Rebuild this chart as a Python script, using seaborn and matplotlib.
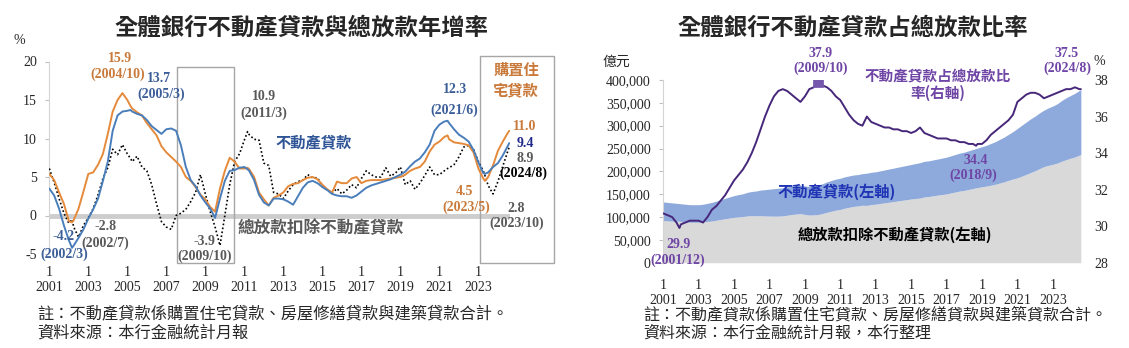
import matplotlib
matplotlib.use("Agg")
import matplotlib.pyplot as plt
import seaborn as sns
import pandas as pd
from matplotlib.patches import Rectangle
from matplotlib.ticker import FuncFormatter

sns.set_style("white")
plt.rcParams['font.family'] = ['Liberation Serif', 'Noto Sans CJK TC', 'DejaVu Sans']
plt.rcParams['axes.unicode_minus'] = False
CJK = ['Noto Sans CJK TC', 'DejaVu Sans']
SERIF = ['Liberation Serif', 'Noto Sans CJK TC']

# ---------------- data: left chart (year-on-year growth, %) ----------------
growth_months = (
    "2001/1 2001/4 2001/7 2001/10 "
    "2002/1 2002/3 2002/4 2002/7 2002/10 "
    "2003/1 2003/4 2003/7 2003/10 "
    "2004/1 2004/4 2004/7 2004/10 "
    "2005/1 2005/3 2005/4 2005/7 2005/10 "
    "2006/1 2006/4 2006/7 2006/10 "
    "2007/1 2007/4 2007/7 2007/10 "
    "2008/1 2008/4 2008/7 2008/10 "
    "2009/1 2009/4 2009/7 2009/10 "
    "2010/1 2010/4 2010/7 2010/10 "
    "2011/1 2011/3 2011/4 2011/7 2011/10 "
    "2012/1 2012/4 2012/7 2012/10 "
    "2013/1 2013/4 2013/7 2013/10 "
    "2014/1 2014/4 2014/7 2014/10 "
    "2015/1 2015/4 2015/7 2015/10 "
    "2016/1 2016/4 2016/7 2016/10 "
    "2017/1 2017/4 2017/7 2017/10 "
    "2018/1 2018/4 2018/7 2018/10 "
    "2019/1 2019/4 2019/7 2019/10 "
    "2020/1 2020/4 2020/7 2020/10 "
    "2021/1 2021/4 2021/6 2021/7 2021/10 "
    "2022/1 2022/4 2022/7 2022/10 "
    "2023/1 2023/4 2023/5 2023/7 2023/10 "
    "2024/1 2024/4 2024/7 2024/8"
).split()

housing_growth = [
    5.4, 4.6, 3.0, 1.5,
    -0.7, -0.9, -0.6, 0.9, 3.1,
    5.4, 5.6, 6.6, 8.0,
    10.6, 13.5, 15.0, 15.9,
    15.0, 14.2, 13.9, 13.4, 13.0,
    12.0, 11.2, 10.4, 9.0,
    8.2, 7.6, 7.0, 6.3,
    5.0, 4.5, 3.7, 2.7,
    2.1, 1.1, 0.5, 3.5,
    5.8, 7.5, 7.0, 6.1,
    6.1, 6.2, 6.0, 5.0, 3.0,
    2.1, 1.3, 2.3, 2.6,
    3.0, 3.8, 4.1, 4.2,
    4.6, 4.9, 5.0, 4.7,
    4.0, 3.4, 3.0, 4.4,
    4.2, 4.2, 4.8, 5.0,
    4.2, 4.5, 4.6, 4.6,
    4.6, 4.7, 4.8, 4.9,
    5.0, 5.3, 5.8, 6.1,
    6.3, 7.0, 8.3, 9.2,
    9.6, 10.2, 10.4, 9.9, 9.5,
    9.4, 9.3, 9.1, 8.2,
    6.1, 4.8, 4.5, 5.0, 6.5,
    8.4, 9.6, 10.7, 11.0,
]

real_estate_growth = [
    3.5, 2.6, 0.9, -1.3,
    -3.2, -4.2, -3.9, -2.9, -1.8,
    -0.4, 0.8, 2.2, 4.5,
    7.0, 11.0, 13.0, 13.5,
    13.6, 13.7, 13.5, 13.2, 13.0,
    12.4, 11.6, 11.1, 10.6,
    11.2, 11.3, 11.0, 9.1,
    6.3, 4.6, 3.8, 2.6,
    1.7, 0.9, -0.3, 2.2,
    4.5, 5.8, 5.9, 6.2,
    6.3, 6.0, 5.8, 4.6, 2.7,
    1.7, 1.3, 2.2, 2.2,
    2.1, 1.8, 1.4, 2.5,
    3.6, 4.3, 4.5, 4.2,
    3.7, 3.3, 2.8, 2.6,
    2.5, 2.5, 2.3, 2.6,
    3.1, 3.6, 3.9, 4.1,
    4.3, 4.5, 4.7, 5.0,
    5.3, 5.7, 6.4, 7.0,
    7.4, 8.2, 9.2, 11.0,
    11.8, 12.2, 12.3, 12.0, 11.2,
    10.5, 10.1, 9.6, 8.5,
    6.9, 5.5, 5.4, 5.6, 6.3,
    6.8, 7.8, 9.0, 9.4,
]

other_growth = [
    6.1, 4.3, 2.2, 0.3,
    -1.0, -0.5, -1.5, -2.8, -1.3,
    -0.3, 0.9, 2.7, 4.8,
    6.2, 8.6, 7.9, 9.2,
    8.0, 7.4, 7.0, 7.7, 6.3,
    5.8, 4.0, 1.5, -0.8,
    -1.5, -1.8, 0.0, 0.3,
    0.8, 1.8, 3.0, 5.3,
    2.8, 0.5, -1.5, -3.9,
    0.0, 4.0, 7.0, 8.0,
    9.8, 10.9, 10.5, 9.9, 9.8,
    6.8, 6.5, 3.0, 2.8,
    2.2, 3.2, 4.0, 4.4,
    4.6, 5.3, 4.9, 4.9,
    3.8, 3.3, 2.9, 3.5,
    2.8, 3.3, 4.0, 3.6,
    4.8, 5.8, 5.3, 5.0,
    5.0, 6.2, 5.1, 5.5,
    6.3, 4.0, 4.5, 3.4,
    4.2, 5.2, 6.3, 5.3,
    5.3, 5.8, 6.1, 6.2, 6.6,
    7.6, 8.9, 9.1, 8.6,
    7.0, 5.8, 5.2, 3.9, 2.8,
    4.4, 6.4, 8.3, 8.9,
]

# ---------------- data: right chart (levels, 億元, and ratio %) ----------------
level_months = (
    "2001/1 2001/4 2001/7 2001/10 2001/12 "
    "2002/1 2002/4 2002/7 2002/10 "
    "2003/1 2003/4 2003/7 2003/10 "
    "2004/1 2004/4 2004/7 2004/10 "
    "2005/1 2005/4 2005/7 2005/10 "
    "2006/1 2006/4 2006/7 2006/10 "
    "2007/1 2007/4 2007/7 2007/10 "
    "2008/1 2008/4 2008/7 2008/10 "
    "2009/1 2009/4 2009/7 2009/10 "
    "2010/1 2010/4 2010/7 2010/10 "
    "2011/1 2011/4 2011/7 2011/10 "
    "2012/1 2012/4 2012/7 2012/10 "
    "2013/1 2013/4 2013/7 2013/10 "
    "2014/1 2014/4 2014/7 2014/10 "
    "2015/1 2015/4 2015/7 2015/10 "
    "2016/1 2016/4 2016/7 2016/10 "
    "2017/1 2017/4 2017/7 2017/10 "
    "2018/1 2018/4 2018/7 2018/9 2018/10 "
    "2019/1 2019/4 2019/7 2019/10 "
    "2020/1 2020/4 2020/7 2020/10 "
    "2021/1 2021/4 2021/7 2021/10 "
    "2022/1 2022/4 2022/7 2022/10 "
    "2023/1 2023/4 2023/7 2023/10 "
    "2024/1 2024/4 2024/7 2024/8"
).split()

other_loans = [  # 總放款扣除不動產貸款, 億元
    92200, 91600, 91000, 90700, 90800,
    90200, 89300, 88500, 88500,
    88500, 89300, 90400, 91200,
    93000, 94700, 96300, 97800,
    99200, 100100, 101000, 102400,
    103000, 102700, 102900, 102400,
    102100, 101900, 102000, 102500,
    103900, 105500, 106500, 107400,
    105700, 104400, 104800, 105600,
    107800, 110400, 112700, 115100,
    116700, 119400, 121400, 123300,
    124300, 125800, 125400, 127300,
    128200, 129600, 131100, 132400,
    133900, 135200, 136700, 138000,
    139500, 140600, 141500, 144100,
    145000, 146500, 148000, 149300,
    150600, 152800, 154800, 157000,
    158300, 160500, 162400, 164000, 164400,
    166400, 167800, 169700, 171700,
    174400, 177100, 180400, 183400,
    185800, 189600, 193400, 197500,
    201300, 206000, 210400, 213200,
    215400, 218200, 222200, 225600,
    228800, 231500, 235600, 236900,
]

real_estate_loans = [  # 不動產貸款, 億元
    40800, 40400, 40000, 39300, 38700,
    38800, 38700, 38500, 38500,
    38500, 38700, 39600, 40800,
    42000, 43300, 44700, 46200,
    47800, 48900, 50000, 51600,
    53000, 54300, 56100, 57600,
    58900, 60100, 61000, 61500,
    62100, 62500, 62500, 62600,
    62300, 62600, 63200, 64400,
    65200, 66600, 67300, 67900,
    68300, 68600, 68600, 68700,
    68700, 69200, 70600, 70700,
    70800, 71400, 71900, 72600,
    73100, 73800, 74300, 75000,
    75500, 76400, 77500, 77900,
    78000, 78500, 79000, 79700,
    80400, 81200, 82200, 83000,
    83700, 84500, 85600, 86000, 86600,
    87600, 89200, 91300, 93300,
    95600, 97900, 100600, 103600,
    108200, 111400, 114600, 117500,
    119700, 122000, 123600, 125800,
    127600, 129800, 132800, 135400,
    137200, 139500, 141400, 142100,
]

re_share = [  # 不動產貸款占總放款比率, %
    30.7, 30.6, 30.5, 30.2, 29.9,
    30.1, 30.2, 30.3, 30.3,
    30.3, 30.2, 30.5, 30.9,
    31.1, 31.4, 31.7, 32.1,
    32.5, 32.8, 33.1, 33.5,
    34.0, 34.6, 35.3, 36.0,
    36.6, 37.1, 37.4, 37.5,
    37.4, 37.2, 37.0, 36.8,
    37.1, 37.5, 37.6, 37.9,
    37.7, 37.6, 37.4, 37.1,
    36.9, 36.5, 36.1, 35.8,
    35.6, 35.5, 36.0, 35.7,
    35.6, 35.5, 35.4, 35.4,
    35.3, 35.3, 35.2, 35.2,
    35.1, 35.2, 35.4, 35.1,
    35.0, 34.9, 34.8, 34.8,
    34.8, 34.7, 34.7, 34.6,
    34.6, 34.5, 34.5, 34.4, 34.5,
    34.5, 34.7, 35.0, 35.2,
    35.4, 35.6, 35.8, 36.1,
    36.8, 37.0, 37.2, 37.3,
    37.3, 37.2, 37.0, 37.1,
    37.2, 37.3, 37.4, 37.5,
    37.5, 37.6, 37.5, 37.5,
]

tick_years = [2001, 2003, 2005, 2007, 2009, 2011, 2013, 2015, 2017, 2019, 2021, 2023]


def to_year(s):
    y, m = s.split('/')
    return int(y) + (int(m) - 1) / 12


g = pd.DataFrame({'t': [to_year(s) for s in growth_months],
                  'housing': housing_growth,
                  'real_estate': real_estate_growth,
                  'other': other_growth})
lv = pd.DataFrame({'t': [to_year(s) for s in level_months],
                   'other': other_loans,
                   're': real_estate_loans,
                   'share': re_share})
lv['total'] = lv['other'] + lv['re']

# ---------------- colours ----------------
ORANGE = '#E58A3A'
ORANGE_T = '#C97A3B'
BLUE = '#4A7EBB'
BLUE_T = '#3C5F99'
GRAY_T = '#595959'
NAVY_T = '#1F2A8A'
GREY_AREA = '#D9D9D9'
BLUE_AREA = '#8EA9DB'
PURPLE = '#46277A'
PURPLE_T = '#6F46A5'

W, H = 1129, 348
fig = plt.figure(figsize=(W / 100, H / 100), dpi=100)


def fx(px):
    return px / W


def fy(py):
    return 1 - py / H


# ================= LEFT CHART =================
axL = fig.add_axes([fx(49.3), fy(254), fx(510) - fx(49.3), fy(61.5) - fy(254)])
axL.set_xlim(2001, 2024.62)
axL.set_ylim(-5, 20)
axL.axhline(0, color='#CDCDCD', lw=3.5, zorder=1)
sns.lineplot(data=g, x='t', y='other', ax=axL, color='black', lw=1.2,
             linestyle=(0, (1, 1.4)), zorder=3)
sns.lineplot(data=g, x='t', y='housing', ax=axL, color=ORANGE, lw=1.4, zorder=4)
sns.lineplot(data=g, x='t', y='real_estate', ax=axL, color=BLUE, lw=1.4, zorder=5)
axL.set_xlabel('')
axL.set_ylabel('')
axL.set_yticks([-5, 0, 5, 10, 15, 20])
axL.set_yticklabels(['-5', '0', '5', '10', '15', '20'], fontsize=10, family=SERIF)
axL.set_xticks(tick_years)
axL.set_xticklabels([f"1\n{y}" for y in tick_years], fontsize=10, family=SERIF,
                    linespacing=1.15)
axL.tick_params(axis='x', length=0, pad=9)
axL.tick_params(axis='y', length=3, color='#BFBFBF', pad=6, direction='out', left=True)
for s in ['top', 'right', 'bottom']:
    axL.spines[s].set_visible(False)
axL.spines['left'].set_color('#D4D4D4')
axL.spines['left'].set_linewidth(0.8)
axL.grid(False)

# highlight boxes
for x0, x1, y1 in [(2007.54, 2010.47, 19.3), (2023.07, 2026.86, 20.7)]:
    axL.add_patch(Rectangle((x0, -6.2), x1 - x0, y1 + 6.2, fill=False,
                            edgecolor='#A6A6A6', lw=1.0, clip_on=False, zorder=2))

ann_L = [
    (2004.63, 20.4, '15.9', ORANGE_T), (2004.52, 18.4, '(2004/10)', ORANGE_T),
    (2006.62, 17.8, '13.7', BLUE_T), (2006.73, 15.7, '(2005/3)', BLUE_T),
    (2012.01, 15.4, '10.9', GRAY_T), (2012.01, 13.3, '(2011/3)', GRAY_T),
    (2021.81, 16.3, '12.3', BLUE_T), (2021.75, 13.7, '(2021/6)', BLUE_T),
    (2025.39, 11.5, '11.0', ORANGE_T), (2025.39, 9.3, '9.4', NAVY_T),
    (2025.39, 7.4, '8.9', GRAY_T), (2025.29, 5.5, '(2024/8)', 'black'),
    (2022.27, 3.1, '4.5', ORANGE_T), (2022.37, 1.1, '(2023/5)', ORANGE_T),
    (2024.94, 0.9, '2.8', GRAY_T), (2024.94, -1.0, '(2023/10)', GRAY_T),
    (2003.86, -1.45, '-2.8', GRAY_T), (2003.86, -3.6, '(2002/7)', GRAY_T),
    (2001.75, -2.75, '-4.2', BLUE_T), (2001.75, -5.0, '(2002/3)', BLUE_T),
    (2008.93, -3.4, '-3.9', GRAY_T), (2008.98, -5.35, '(2009/10)', GRAY_T),
]
for x, y, t, c in ann_L:
    axL.text(x, y, t, color=c, fontsize=10, fontweight='bold', family=SERIF,
             ha='center', va='center', zorder=6)

axL.text(2014.57, 9.4, '不動產貸款', color='#2F5597', fontsize=11, fontweight='bold',
         family=CJK, ha='center', va='center')
axL.text(2014.93, -1.66, '總放款扣除不動產貸款', color=GRAY_T, fontsize=12,
         fontweight='bold', family=CJK, ha='center', va='center')
axL.text(2024.94, 18.9, '購置住', color=ORANGE_T, fontsize=11, fontweight='bold',
         family=CJK, ha='center', va='center')
axL.text(2024.94, 16.3, '宅貸款', color=ORANGE_T, fontsize=11, fontweight='bold',
         family=CJK, ha='center', va='center')

fig.text(fx(19.6), fy(40), '%', fontsize=10, family=SERIF, ha='center', va='center')
fig.text(fx(302), fy(28.3), '全體銀行不動產貸款與總放款年增率', fontsize=16.8,
         fontweight='bold', family=CJK, ha='center', va='center')
fig.text(fx(37.5), fy(315), '註：不動產貸款係購置住宅貸款、房屋修繕貸款與建築貸款合計。',
         fontsize=11.7, family=CJK, ha='left', va='center')
fig.text(fx(37.5), fy(333), '資料來源：本行金融統計月報',
         fontsize=11.7, family=CJK, ha='left', va='center')

# ================= RIGHT CHART =================
axR = fig.add_axes([fx(663.2), fy(262.7), fx(1081.5) - fx(663.2), fy(80) - fy(262.7)])
axR.set_xlim(2001, 2024.62)
axR.set_ylim(0, 400000)
axR.fill_between(lv['t'], 0, lv['other'], color=GREY_AREA, lw=0, zorder=1)
axR.fill_between(lv['t'], lv['other'], lv['total'], color=BLUE_AREA, lw=0, zorder=1)
axR.set_yticks(range(0, 400001, 50000))
axR.yaxis.set_major_formatter(FuncFormatter(lambda v, p: f"{v:,.0f}"))
for lab in axR.get_yticklabels():
    lab.set_family(SERIF)
    lab.set_fontsize(10)
axR.set_xticks(tick_years)
axR.set_xticklabels([f"1\n{y}" for y in tick_years], fontsize=10, family=SERIF,
                    linespacing=1.15)
axR.tick_params(axis='x', length=0, pad=12)
axR.tick_params(axis='y', length=3, color='#BFBFBF', pad=6, direction='out', left=True)
for s in ['top', 'right', 'bottom']:
    axR.spines[s].set_visible(False)
axR.spines['left'].set_color('#D4D4D4')
axR.spines['left'].set_linewidth(0.8)
axR.grid(False)

axR2 = axR.twinx()
axR2.set_ylim(28, 38)
sns.lineplot(data=lv, x='t', y='share', ax=axR2, color=PURPLE, lw=1.4, zorder=3)
peak = lv.loc[lv['share'].idxmax()]
sns.scatterplot(x=[peak['t']], y=[peak['share']], ax=axR2, marker='s', s=45,
                color='#7657AE', edgecolor='#7657AE', zorder=4)
axR2.set_xlabel('')
axR2.set_ylabel('')
axR2.set_yticks([28, 30, 32, 34, 36, 38])
axR2.set_yticklabels(['28', '30', '32', '34', '36', '38'], fontsize=10, family=SERIF)
axR2.tick_params(axis='y', length=0, pad=9)
for s in ['top', 'right', 'bottom', 'left']:
    axR2.spines[s].set_visible(False)
axR2.grid(False)

ann_R = [
    (2009.87, 39.46, '37.9'), (2009.87, 38.64, '(2009/10)'),
    (2023.8, 39.46, '37.5'), (2023.8, 38.64, '(2024/8)'),
    (2018.65, 33.62, '34.4'), (2018.53, 32.8, '(2018/9)'),
    (2001.84, 28.97, '29.9'), (2001.84, 28.15, '(2001/12)'),
]
for x, y, t in ann_R:
    axR2.text(x, y, t, color=PURPLE_T, fontsize=10, fontweight='bold', family=SERIF,
              ha='center', va='center', zorder=6)
axR2.text(2016.5, 38.2, '不動產貸款占總放款比', color=PURPLE_T, fontsize=10.5,
          fontweight='bold', family=CJK, ha='center', va='center')
axR2.text(2016.5, 37.3, '率(右軸)', color=PURPLE_T, fontsize=10.5,
          fontweight='bold', family=CJK, ha='center', va='center')
axR.text(2010.82, 155440, '不動產貸款(左軸)', color='#1F33B5', fontsize=11,
         fontweight='bold', family=CJK, ha='center', va='center', zorder=5)
axR.text(2014.06, 60640, '總放款扣除不動產貸款(左軸)', color='black', fontsize=11,
         fontweight='bold', family=CJK, ha='center', va='center', zorder=5)

fig.text(fx(616), fy(61.7), '億元', fontsize=10, family=CJK, ha='center', va='center')
fig.text(fx(1099), fy(61.7), '%', fontsize=10, family=SERIF, ha='center', va='center')
fig.text(fx(853), fy(28.3), '全體銀行不動產貸款占總放款比率', fontsize=16.8,
         fontweight='bold', family=CJK, ha='center', va='center')
fig.text(fx(643), fy(315), '註：不動產貸款係購置住宅貸款、房屋修繕貸款與建築貸款合計。',
         fontsize=11.5, family=CJK, ha='left', va='center')
fig.text(fx(643), fy(333), '資料來源：本行金融統計月報，本行整理',
         fontsize=11.5, family=CJK, ha='left', va='center')

fig.savefig('out.png', dpi=100, facecolor='white')
